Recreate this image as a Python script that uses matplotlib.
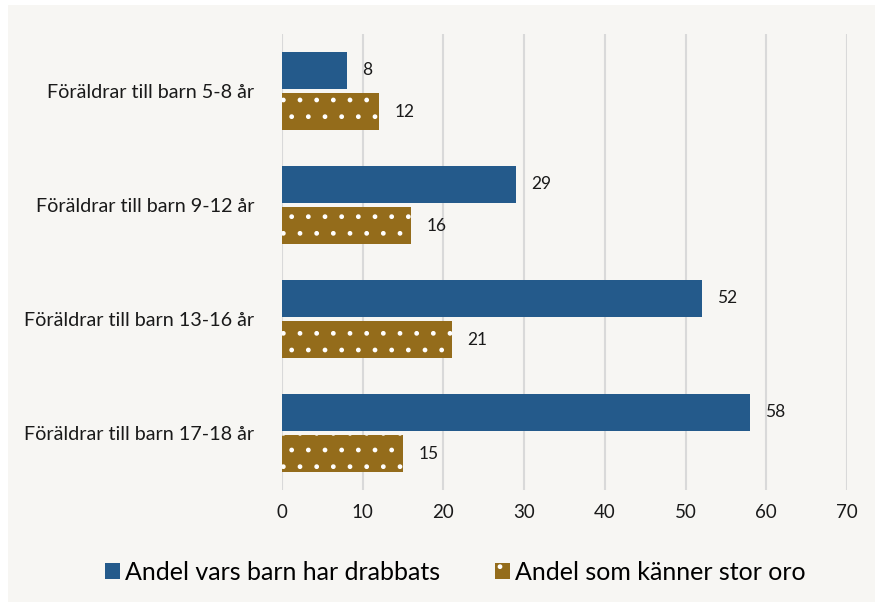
import matplotlib.pyplot as plt
from matplotlib.patches import Rectangle
import numpy as np

categories = ['Föräldrar till barn 5-8 år', 'Föräldrar till barn 9-12 år',
              'Föräldrar till barn 13-16 år', 'Föräldrar till barn 17-18 år']
drabbats = [8, 29, 52, 58]
oro = [12, 16, 21, 15]
series_names = ['Andel vars barn har drabbats', 'Andel som känner stor oro']

blue = '#245a8b'
gold = '#946c1b'
bg = '#f7f6f3'

plt.rcParams['font.family'] = ['Lato', 'DejaVu Sans']
plt.rcParams['hatch.linewidth'] = 1.0

fig = plt.figure(figsize=(8.75, 6.02), dpi=100, facecolor='white')
fig.patches.append(Rectangle((8 / 875, 0), 1, 1 - 5 / 602, transform=fig.transFigure,
                             facecolor=bg, edgecolor='none', zorder=-10))
ax = fig.add_axes([282 / 875, 1 - 490 / 602, (847 - 282) / 875, (490 - 34) / 602])
ax.set_facecolor(bg)

y = np.arange(len(categories))
h = 0.325
gap = 0.018
b1 = ax.barh(y - h / 2 - gap, drabbats, height=h, color=blue, edgecolor='none',
             label=series_names[0], zorder=3)
b2 = ax.barh(y + h / 2 + gap, oro, height=h, color=gold, edgecolor='white',
             linewidth=0, hatch='.', label=series_names[1], zorder=3)

for bars, vals in ((b1, drabbats), (b2, oro)):
    for bar, v in zip(bars, vals):
        ax.annotate(str(v), (v, bar.get_y() + bar.get_height() / 2),
                    xytext=(11, 0), textcoords='offset points',
                    va='center', ha='left', fontsize=12.5, color='#1a1a1a')

ax.set_xlim(0, 70)
ax.set_xticks(range(0, 71, 10))
ax.set_ylim(3.5, -0.5)
ax.set_yticks(y)
ax.set_yticklabels(categories, fontsize=14.2, color='#1a1a1a')
ax.tick_params(axis='y', length=0, pad=20)
ax.tick_params(axis='x', length=0, pad=10, labelsize=13.5, labelcolor='#1a1a1a')
ax.grid(axis='x', color='#d9d9d9', linewidth=1.5, zorder=0)
for s in ax.spines.values():
    s.set_visible(False)

fig.legend(handles=[b1, b2], labels=series_names, loc='center', ncol=2,
           bbox_to_anchor=(0.52, 1 - 572 / 602), frameon=False, fontsize=18,
           handlelength=0.6, handleheight=0.6, handletextpad=0.2, columnspacing=2.2)

fig.savefig('out.png', dpi=100, facecolor=fig.get_facecolor())
